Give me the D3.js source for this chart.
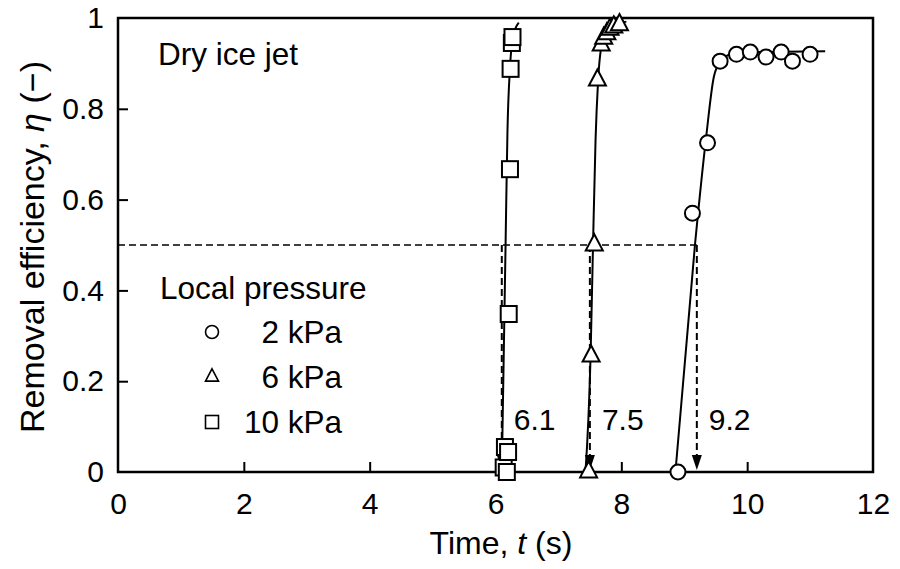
<!DOCTYPE html>
<html>
<head>
<meta charset="utf-8">
<script src="https://cdn.jsdelivr.net/npm/d3@7"></script>
<style>
  html, body { margin: 0; padding: 0; background: #fff; }
  svg { display: block; font-family: "Liberation Sans", Arial, sans-serif; }
</style>
</head>
<body>
<svg id="chart" width="900" height="569"></svg>
<script>
// Axis ticks
const xTicks = [0, 2, 4, 6, 8, 10, 12];
const yTicks = [0, 0.2, 0.4, 0.6, 0.8, 1];

// Measured points [t (s), η]
const p2kPa = [[8.90, 0.000], [9.13, 0.570], [9.37, 0.725], [9.57, 0.905], [9.83, 0.920],
               [10.05, 0.925], [10.30, 0.914], [10.54, 0.925], [10.72, 0.905], [11.00, 0.920]];
const p6kPa = [[7.48, 0.000], [7.52, 0.255], [7.57, 0.500], [7.62, 0.863], [7.68, 0.940],
               [7.72, 0.955], [7.77, 0.965], [7.82, 0.975], [7.88, 0.980], [7.97, 0.985]];
const p10kPa = [[6.13, 0.010], [6.18, 0.000], [6.15, 0.055], [6.20, 0.044], [6.21, 0.348],
                [6.23, 0.667], [6.24, 0.888], [6.26, 0.945], [6.27, 0.958]];

// Fitted curves
const fit2kPa = [[8.86, 0], [9.17, 0.50], [9.35, 0.74], [9.47, 0.87], [9.58, 0.905],
                 [9.75, 0.92], [10.2, 0.925], [11.24, 0.927]];
const fit6kPa = [[7.43, 0], [7.51, 0.25], [7.55, 0.50], [7.59, 0.73], [7.63, 0.86],
                 [7.69, 0.94], [7.85, 0.98], [8.08, 0.992]];
const fit10kPa = [[6.10, 0], [6.13, 0.25], [6.16, 0.50], [6.19, 0.75], [6.23, 0.89],
                  [6.28, 0.96], [6.37, 0.99]];

// Times at η = 0.5
const halfTimes = [6.1, 7.5, 9.2];
const halfLevel = 0.5;

const legendTitle = "Local pressure";
const legendLabels = ["2 kPa", "6 kPa", "10 kPa"];
const legendShapes = ["circle", "triangle", "square"];

const svg = d3.select("#chart");
const x = d3.scaleLinear().domain([0, 12]).range([118, 873]);
const y = d3.scaleLinear().domain([0, 1]).range([472, 18]);
const FS = 30;     // tick labels and value labels
const FT = 31.5;   // annotations and legend

// Frame
svg.append("rect")
  .attr("x", x(0)).attr("y", y(1))
  .attr("width", x(12) - x(0)).attr("height", y(0) - y(1))
  .attr("fill", "none").attr("stroke", "#000").attr("stroke-width", 2.5);

// Axes with inward ticks
const gx = svg.append("g").attr("transform", `translate(0,${y(0)})`)
  .call(d3.axisBottom(x).tickValues(xTicks).tickSize(-10).tickPadding(21).tickFormat(d3.format("d")));
const gy = svg.append("g").attr("transform", `translate(${x(0)},0)`)
  .call(d3.axisLeft(y).tickValues(yTicks).tickSize(-10).tickPadding(14).tickFormat(d => String(+d.toFixed(1))));
[gx, gy].forEach(g => {
  g.select(".domain").remove();
  g.selectAll(".tick line").attr("stroke", "#000").attr("stroke-width", 2);
  g.selectAll(".tick text").attr("fill", "#000").style("font-size", FS + "px")
    .style("font-family", "'Liberation Sans', Arial, sans-serif");
});
gx.selectAll(".tick").filter(d => d === 0 || d === 12).select("line").remove();
gy.selectAll(".tick").filter(d => d === 0 || d === 1).select("line").remove();

// Axis titles
svg.append("text")
  .attr("x", 501).attr("y", 554).attr("text-anchor", "middle")
  .style("font-size", "32px")
  .call(t => {
    t.append("tspan").text("Time, ");
    t.append("tspan").attr("font-style", "italic").text("t");
    t.append("tspan").text(" (s)");
  });

svg.append("text")
  .attr("transform", "translate(44,247) rotate(-90)")
  .attr("text-anchor", "middle")
  .style("font-size", "34px")
  .call(t => {
    t.append("tspan").text("Removal efficiency, ");
    t.append("tspan").attr("font-style", "italic").text("η");
    t.append("tspan").text(" (−)");
  });

// Dashed guide lines and arrows at η = 0.5
const dash = "7,4";
svg.append("line")
  .attr("x1", x(0)).attr("x2", x(d3.max(halfTimes)))
  .attr("y1", y(halfLevel)).attr("y2", y(halfLevel))
  .attr("stroke", "#000").attr("stroke-width", 1.6).attr("stroke-dasharray", dash);

const arrows = svg.append("g");
halfTimes.forEach(t => {
  const ax = x(t), tip = y(0) - 2;
  arrows.append("line")
    .attr("x1", ax).attr("x2", ax).attr("y1", y(halfLevel)).attr("y2", tip - 12)
    .attr("stroke", "#000").attr("stroke-width", 2).attr("stroke-dasharray", dash);
  arrows.append("path")
    .attr("d", `M${ax - 5},${tip - 15}L${ax + 5},${tip - 15}L${ax},${tip}Z`)
    .attr("fill", "#000");
  arrows.append("text")
    .attr("x", ax + 12).attr("y", 430)
    .style("font-size", FS + "px")
    .text(t.toFixed(1));
});

// Fitted curves
const line = d3.line().x(d => x(d[0])).y(d => y(d[1])).curve(d3.curveMonotoneX);
[fit2kPa, fit6kPa, fit10kPa].forEach(f => {
  svg.append("path").attr("d", line(f))
    .attr("fill", "none").attr("stroke", "#000").attr("stroke-width", 2);
});

// Markers
const mk = svg.append("g").attr("fill", "#fff").attr("stroke", "#000").attr("stroke-width", 2);
function drawShape(g, shape, cx, cy, s) {
  if (shape === "circle") {
    g.append("circle").attr("cx", cx).attr("cy", cy).attr("r", s / 2);
  } else if (shape === "square") {
    g.append("rect").attr("x", cx - s / 2).attr("y", cy - s / 2).attr("width", s).attr("height", s);
  } else {
    const h = s * 0.95;
    g.append("path").attr("d",
      `M${cx},${cy - h * 2 / 3}L${cx + s / 2},${cy + h / 3}L${cx - s / 2},${cy + h / 3}Z`);
  }
}
p2kPa.forEach(d => drawShape(mk, "circle", x(d[0]), y(d[1]), 15));
p6kPa.forEach(d => drawShape(mk, "triangle", x(d[0]), y(d[1]), 17));
p10kPa.forEach(d => drawShape(mk, "square", x(d[0]), y(d[1]), 16));

// Annotations and legend
svg.append("text").attr("x", 158).attr("y", 65).style("font-size", FT + "px").text("Dry ice jet");
svg.append("text").attr("x", 160).attr("y", 299).style("font-size", FT + "px").text(legendTitle);

const lg = svg.append("g");
const lgSym = lg.append("g").attr("fill", "none").attr("stroke", "#000").attr("stroke-width", 1.6);
const rowY = [343, 388, 433];
legendLabels.forEach((lab, i) => {
  drawShape(lgSym, legendShapes[i], 212, rowY[i] - 11, 13);
  lg.append("text")
    .attr("x", 342).attr("y", rowY[i]).attr("text-anchor", "end")
    .style("font-size", FT + "px").text(lab);
});
</script>
</body>
</html>
